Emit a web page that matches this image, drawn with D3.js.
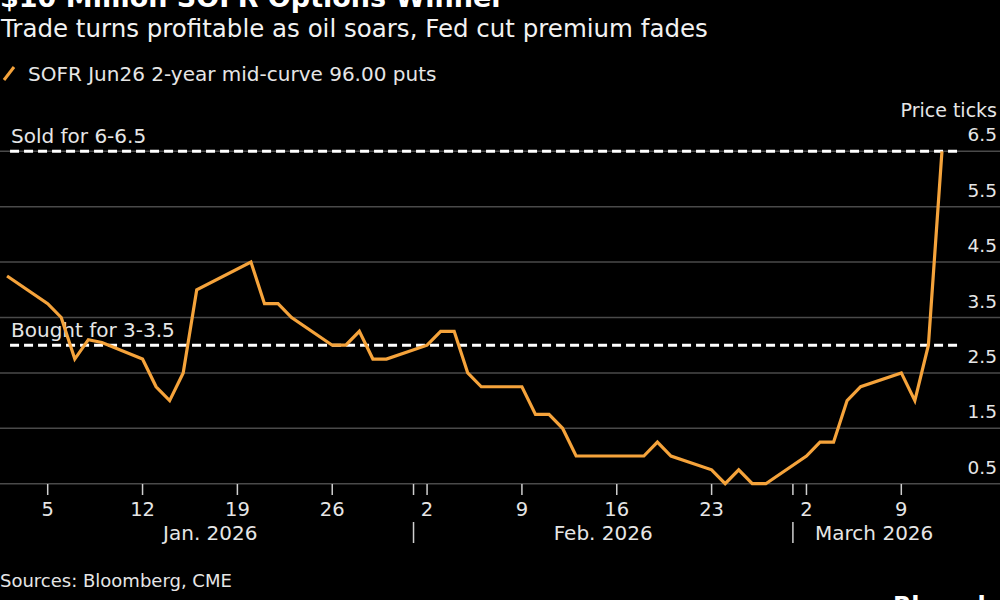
<!DOCTYPE html>
<html lang="en">
<head>
  <meta charset="UTF-8">
  <title>$10 Million SOFR Options Winner</title>
  <script src="https://d3js.org/d3.v7.min.js"></script>
  <style>
    body {
      margin: 0;
      background: #000;
      font-family: "DejaVu Sans", sans-serif;
    }
    svg { display: block; }
  </style>
</head>
<body>
  <svg id="chart" width="1000" height="600"></svg>

  <script>
    // Daily price of the option (price ticks).
    const dates = [
      "2026-01-02", "2026-01-05", "2026-01-06", "2026-01-07", "2026-01-08", "2026-01-09",
      "2026-01-12", "2026-01-13", "2026-01-14", "2026-01-15", "2026-01-16",
      "2026-01-20", "2026-01-21", "2026-01-22", "2026-01-23",
      "2026-01-26", "2026-01-27", "2026-01-28", "2026-01-29", "2026-01-30",
      "2026-02-02", "2026-02-03", "2026-02-04", "2026-02-05", "2026-02-06",
      "2026-02-09", "2026-02-10", "2026-02-11", "2026-02-12", "2026-02-13",
      "2026-02-17", "2026-02-18", "2026-02-19", "2026-02-20",
      "2026-02-23", "2026-02-24", "2026-02-25", "2026-02-26", "2026-02-27",
      "2026-03-02", "2026-03-03", "2026-03-04", "2026-03-05", "2026-03-06",
      "2026-03-09", "2026-03-10", "2026-03-11", "2026-03-12"
    ];
    const prices = [
      4.25, 3.75, 3.5, 2.75, 3.1, 3.05,
      2.75, 2.25, 2.0, 2.5, 4.0,
      4.5, 3.75, 3.75, 3.5,
      3.0, 3.0, 3.25, 2.75, 2.75,
      3.0, 3.25, 3.25, 2.5, 2.25,
      2.25, 1.75, 1.75, 1.5, 1.0,
      1.0, 1.0, 1.25, 1.0,
      0.75, 0.5, 0.75, 0.5, 0.5,
      1.0, 1.25, 1.25, 2.0, 2.25,
      2.5, 2.0, 3.0, 6.5
    ];

    // Entry / exit levels
    const refValues = [6.5, 3.0];
    const refLabels = ["Sold for 6-6.5", "Bought for 3-3.5"];

    const yTicks = [0.5, 1.5, 2.5, 3.5, 4.5, 5.5, 6.5];
    const weekTicks = ["2026-01-05", "2026-01-12", "2026-01-19", "2026-01-26", "2026-02-02",
                       "2026-02-09", "2026-02-16", "2026-02-23", "2026-03-02", "2026-03-09"];
    const monthStarts = ["2026-02-01", "2026-03-01"];
    const months = ["2026-01-01", "2026-02-01", "2026-03-01", "2026-04-01"];
    const monthLabels = ["Jan. 2026", "Feb. 2026", "March 2026"];

    const parse = d3.utcParse("%Y-%m-%d");
    const data = dates.map((d, i) => ({ date: parse(d), value: prices[i] }));

    const svg = d3.select("#chart");
    const W = 1000;
    const domainStart = parse("2026-01-01");
    const domainEnd = parse("2026-03-13");

    const x = d3.scaleUtc().domain([domainStart, domainEnd]).range([-6.5, 955.5]);
    const y = d3.scaleLinear().domain([0.5, 6.5]).range([483.7, 151.3]);

    const orange = "#f5a33b";
    const grid = "#4a4a4a";
    const textCol = "#e6e6e6";

    // Title block (title runs off the top edge, as in the source image)
    svg.append("text")
       .attr("x", 0).attr("y", 7)
       .attr("font-size", 27).attr("font-weight", "bold")
       .attr("fill", "#fff")
       .text("$10 Million SOFR Options Winner");
    svg.append("text")
       .attr("x", 1).attr("y", 37)
       .attr("font-size", 24.5)
       .attr("fill", "#f2f2f2")
       .text("Trade turns profitable as oil soars, Fed cut premium fades");

    // Legend
    svg.append("line")
       .attr("x1", 4).attr("y1", 80).attr("x2", 14).attr("y2", 67)
       .attr("stroke", orange).attr("stroke-width", 3);
    svg.append("text")
       .attr("x", 28).attr("y", 81)
       .attr("font-size", 20)
       .attr("fill", textCol)
       .text("SOFR Jun26 2-year mid-curve 96.00 puts");

    // Horizontal gridlines
    svg.append("g").selectAll("line")
       .data(yTicks)
       .join("line")
       .attr("x1", 0).attr("x2", W)
       .attr("y1", d => y(d)).attr("y2", d => y(d))
       .attr("stroke", grid).attr("stroke-width", 1.5);

    // Y labels sit above their gridlines on the right
    svg.append("g").selectAll("text")
       .data(yTicks)
       .join("text")
       .attr("x", 997).attr("y", d => y(d) - 10)
       .attr("text-anchor", "end")
       .attr("font-size", 18.5)
       .attr("fill", textCol)
       .text(d => d3.format(".1f")(d));
    svg.append("text")
       .attr("x", 997).attr("y", 117)
       .attr("text-anchor", "end")
       .attr("font-size", 19)
       .attr("fill", textCol)
       .text("Price ticks");

    // X axis: weekly ticks plus month boundary ticks
    const tickDates = weekTicks.map(parse).concat(monthStarts.map(parse));
    svg.append("g").selectAll("line")
       .data(tickDates)
       .join("line")
       .attr("x1", d => x(d)).attr("x2", d => x(d))
       .attr("y1", 484).attr("y2", 495)
       .attr("stroke", "#cfcfcf").attr("stroke-width", 1.5);
    svg.append("g").selectAll("text")
       .data(weekTicks.map(parse))
       .join("text")
       .attr("x", d => x(d)).attr("y", 516)
       .attr("text-anchor", "middle")
       .attr("font-size", 19.5)
       .attr("fill", textCol)
       .text(d => d3.utcFormat("%-d")(d));

    // Month separators and labels
    svg.append("g").selectAll("line")
       .data(monthStarts.map(parse))
       .join("line")
       .attr("x1", d => x(d)).attr("x2", d => x(d))
       .attr("y1", 522).attr("y2", 543)
       .attr("stroke", "#cfcfcf").attr("stroke-width", 1.5);
    const lo = x(data[0].date), hi = x(domainEnd);
    svg.append("g").selectAll("text")
       .data(monthLabels)
       .join("text")
       .attr("x", (d, i) => {
         const a = Math.max(lo, x(parse(months[i])));
         const b = Math.min(hi, x(parse(months[i + 1])));
         return (a + b) / 2;
       })
       .attr("y", 540)
       .attr("text-anchor", "middle")
       .attr("font-size", 20)
       .attr("fill", textCol)
       .text(d => d);

    // Dashed entry / exit lines
    svg.append("g").selectAll("line")
       .data(refValues)
       .join("line")
       .attr("x1", lo + 3).attr("x2", hi + 2)
       .attr("y1", d => y(d)).attr("y2", d => y(d))
       .attr("stroke", "#fff").attr("stroke-width", 3)
       .attr("stroke-dasharray", "9,5");
    svg.append("g").selectAll("text")
       .data(refValues)
       .join("text")
       .attr("x", 11).attr("y", d => y(d) - 8)
       .attr("font-size", 20)
       .attr("fill", textCol)
       .text((d, i) => refLabels[i]);

    // Price line
    const line = d3.line()
      .x(d => x(d.date))
      .y(d => y(d.value));
    svg.append("path")
       .datum(data)
       .attr("d", line)
       .attr("fill", "none")
       .attr("stroke", orange)
       .attr("stroke-width", 3.2)
       .attr("stroke-linejoin", "miter");

    // Footer
    svg.append("text")
       .attr("x", 0).attr("y", 587)
       .attr("font-size", 18)
       .attr("fill", textCol)
       .text("Sources: Bloomberg, CME");
    svg.append("text")
       .attr("x", 893).attr("y", 614)
       .attr("font-size", 24).attr("font-weight", "bold")
       .attr("fill", "#fff")
       .text("Bloomberg");
  </script>
</body>
</html>
